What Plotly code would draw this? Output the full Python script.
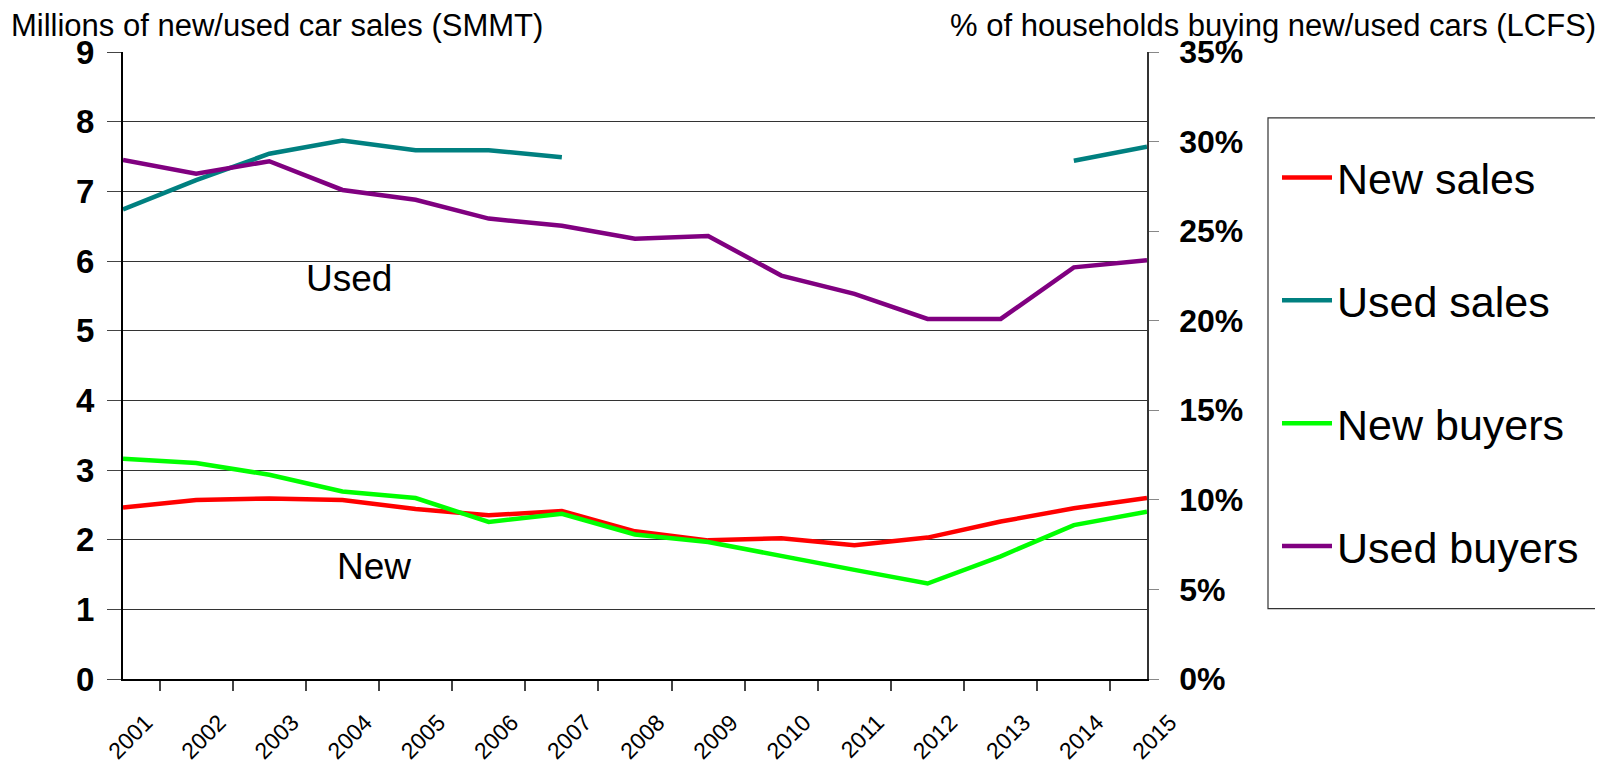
import plotly.graph_objects as go

years = [str(y) for y in range(2001, 2016)]
new_sales = [2.46, 2.57, 2.59, 2.57, 2.44, 2.35, 2.41, 2.12, 1.99, 2.02, 1.92, 2.03, 2.26, 2.45, 2.60]
used_sales = [6.74, 7.16, 7.54, 7.73, 7.59, 7.59, 7.49, None, None, None, None, None, None, 7.44, 7.64]
new_buyers = [0.123, 0.1206, 0.114, 0.1047, 0.101, 0.0877, 0.0922, 0.0807, 0.0765, 0.069, 0.0609, 0.0533, 0.0685, 0.0859, 0.0934]
used_buyers = [0.2897, 0.282, 0.289, 0.273, 0.2675, 0.257, 0.253, 0.2458, 0.2473, 0.2252, 0.215, 0.201, 0.201, 0.2298, 0.2337]

FONT = "Liberation Sans, Arial, sans-serif"
OFF = 8  # default page body margin
W, H = 1603 - OFF, 764 - OFF
L, R, T, B = 123, 1147, 52, 679.5  # plot area in page pixels


def px(x):
    return (x - L) / (R - L)


def py(y):
    return (B - y) / (B - T)


fig = go.Figure()
fig.add_trace(go.Scatter(x=years, y=new_sales, name="New sales", mode="lines",
                         line=dict(color="#FF0000", width=4.5), legendgroup="a"))
fig.add_trace(go.Scatter(x=years, y=used_sales, name="Used sales", mode="lines",
                         line=dict(color="#008080", width=4.5), connectgaps=False, legendgroup="b"))
fig.add_trace(go.Scatter(x=years, y=new_buyers, name="New buyers", mode="lines", yaxis="y2",
                         line=dict(color="#00FF00", width=4.5), legendgroup="c"))
fig.add_trace(go.Scatter(x=years, y=used_buyers, name="Used buyers", mode="lines", yaxis="y2",
                         line=dict(color="#800080", width=4.5), legendgroup="d"))

fig.update_layout(
    width=W, height=H,
    margin=dict(l=L - OFF, r=W - (R - OFF), t=T - OFF, b=H - (B - OFF), pad=0, autoexpand=False),
    paper_bgcolor="white", plot_bgcolor="white",
    font=dict(family=FONT, color="black"),
    showlegend=True,
    legend=dict(x=px(1277), y=py(143), xanchor="left", yanchor="top",
                font=dict(size=43, family=FONT, color="black"),
                traceorder="grouped", tracegroupgap=64, itemwidth=50,
                bgcolor="rgba(0,0,0,0)", borderwidth=0),
    xaxis=dict(type="category", tickangle=-45, tickson="boundaries",
               ticks="outside", ticklen=10, tickcolor="#444", tickwidth=1.5,
               tickfont=dict(size=23, family=FONT, color="black"),
               ticklabelshift=23, ticklabelstandoff=19,
               showline=True, linecolor="black", linewidth=2,
               showgrid=False, zeroline=False),
    yaxis=dict(range=[0, 9], dtick=1, ticks="outside", ticklen=14, tickcolor="#444",
               tickfont=dict(size=33, family=FONT, color="black", weight="bold"),
               ticklabelstandoff=6,
               showline=True, linecolor="black", linewidth=2,
               showgrid=True, gridcolor="#333", gridwidth=1.2, zeroline=False),
    yaxis2=dict(range=[0, 0.35], dtick=0.05, tickformat=".0%", overlaying="y", side="right",
                ticks="outside", ticklen=10, tickcolor="#888",
                tickfont=dict(size=32, family=FONT, color="black", weight="bold"),
                ticklabelstandoff=14,
                showline=True, linecolor="#333", linewidth=1.5,
                showgrid=False, zeroline=False),
    shapes=[dict(type="rect", xref="paper", yref="paper",
                 x0=px(1268), x1=px(1599), y0=py(609), y1=py(118),
                 line=dict(color="#333", width=1.2), fillcolor="rgba(0,0,0,0)")],
    annotations=[
        dict(text="Millions of new/used car sales (SMMT)", xref="paper", yref="paper",
             x=px(9), y=py(25), xanchor="left", yanchor="middle", showarrow=False,
             font=dict(size=31, family=FONT, color="black")),
        dict(text="% of households buying new/used cars (LCFS)", xref="paper", yref="paper",
             x=px(1598), y=py(25), xanchor="right", yanchor="middle", showarrow=False,
             font=dict(size=31, family=FONT, color="black")),
        dict(text="Used", xref="paper", yref="paper", x=px(349), y=py(279),
             xanchor="center", yanchor="middle", showarrow=False,
             font=dict(size=37, family=FONT, color="black")),
        dict(text="New", xref="paper", yref="paper", x=px(374), y=py(567),
             xanchor="center", yanchor="middle", showarrow=False,
             font=dict(size=37, family=FONT, color="black")),
    ],
)

fig.write_html("out.html")
